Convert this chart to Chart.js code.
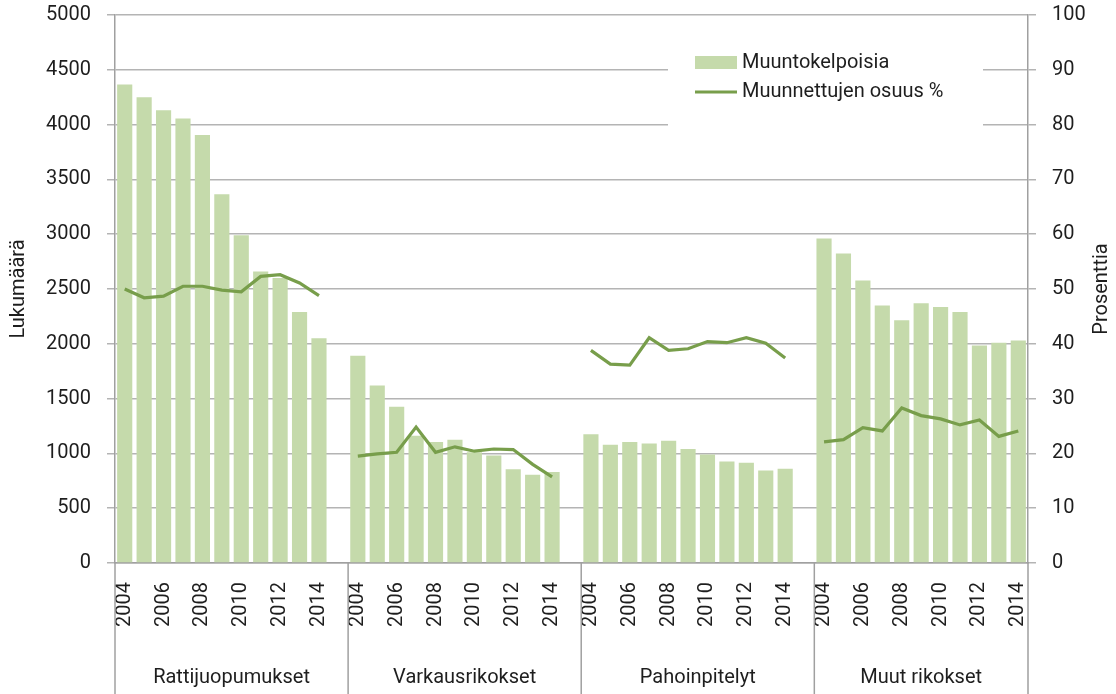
<!DOCTYPE html>
<html lang="fi">
<head>
<meta charset="utf-8">
<title>Muuntokelpoiset ja muunnettujen osuus</title>
<script src="https://cdn.jsdelivr.net/npm/chart.js@4.4.1/dist/chart.umd.min.js"></script>
<style>
  html, body { margin: 0; padding: 0; background: #fff; }
  #wrap { width: 1116px; height: 694px; }
</style>
</head>
<body>
<div id="wrap"><canvas id="chart" width="1116" height="694"></canvas></div>
<script>
const years = ['2004', '2005', '2006', '2007', '2008', '2009', '2010', '2011', '2012', '2013', '2014'];
const groups = ['Rattijuopumukset', 'Varkausrikokset', 'Pahoinpitelyt', 'Muut rikokset'];

// Muuntokelpoisia (lukumäärä)
const rattiCount = [4365, 4250, 4130, 4055, 3905, 3365, 2990, 2660, 2600, 2290, 2050];
const varkausCount = [1890, 1620, 1425, 1160, 1105, 1125, 1010, 980, 855, 805, 830];
const pahoinCount = [1175, 1080, 1105, 1090, 1115, 1040, 990, 925, 915, 845, 860];
const muutCount = [2960, 2825, 2578, 2350, 2215, 2370, 2335, 2290, 1985, 2010, 2030];

// Muunnettujen osuus %
const rattiPct = [50.0, 48.4, 48.7, 50.5, 50.5, 49.8, 49.5, 52.3, 52.6, 51.1, 48.8];
const varkausPct = [19.5, 19.9, 20.2, 24.8, 20.2, 21.2, 20.4, 20.8, 20.7, 18.0, 15.7];
const pahoinPct = [38.8, 36.3, 36.1, 41.1, 38.8, 39.1, 40.4, 40.2, 41.1, 40.1, 37.4];
const muutPct = [22.1, 22.5, 24.7, 24.1, 28.3, 26.9, 26.3, 25.2, 26.1, 23.1, 24.1];

const countMax = 5000, countStep = 500;
const pctMax = 100, pctStep = 10;

const barColor = '#c5daab';
const lineColor = '#789e4b';
const gridColor = '#b4b4b4';
const axisColor = '#a0a0a0';
const textColor = '#1e1e1e';
const fontFamily = 'Roboto, "DejaVu Sans", sans-serif';
const fontSize = 20;

// flatten groups, with an empty slot between groups
const allCounts = [rattiCount, varkausCount, pahoinCount, muutCount];
const allPcts = [rattiPct, varkausPct, pahoinPct, muutPct];
const labels = [];
const countData = [];
const pctData = [];
allCounts.forEach((counts, g) => {
    years.forEach((y, i) => {
        labels.push(y);
        countData.push(counts[i]);
        pctData.push(allPcts[g][i]);
    });
    if (g < groups.length - 1) {
        labels.push('');
        countData.push(null);
        pctData.push(null);
    }
});

const decor = {
    id: 'decor',
    afterDraw(chart) {
        const ctx = chart.ctx;
        const xs = chart.scales.x;
        const area = chart.chartArea;
        const slot = xs.getPixelForValue(1) - xs.getPixelForValue(0);

        ctx.save();
        ctx.font = fontSize + 'px ' + fontFamily;
        ctx.fillStyle = textColor;
        ctx.textAlign = 'center';
        ctx.textBaseline = 'middle';

        // group separators and names
        ctx.strokeStyle = axisColor;
        ctx.lineWidth = 1.5;
        let start = 0;
        groups.forEach((name, g) => {
            const n = years.length + (g < groups.length - 1 ? 1 : 0);
            const x0 = xs.getPixelForValue(start) - slot / 2;
            const x1 = xs.getPixelForValue(start + n - 1) + slot / 2;
            ctx.beginPath();
            ctx.moveTo(x0, area.bottom);
            ctx.lineTo(x0, chart.height);
            if (g === groups.length - 1) {
                ctx.moveTo(x1, area.bottom);
                ctx.lineTo(x1, chart.height);
            }
            ctx.stroke();
            ctx.fillText(name, (x0 + x1) / 2, 678);
            start += n;
        });

        // axis titles, both reading upwards
        const midY = (area.top + area.bottom) / 2;
        ctx.save();
        ctx.translate(19, midY);
        ctx.rotate(-Math.PI / 2);
        ctx.fillText('Lukumäärä', 0, 0);
        ctx.restore();
        ctx.save();
        ctx.translate(1102, midY);
        ctx.rotate(-Math.PI / 2);
        ctx.fillText('Prosenttia', 0, 0);
        ctx.restore();

        // legend
        const ds = chart.data.datasets;
        ctx.fillStyle = '#fff';
        ctx.fillRect(668, 24, 315, 104);
        ctx.fillStyle = barColor;
        ctx.fillRect(695, 56, 42, 13);
        ctx.strokeStyle = lineColor;
        ctx.lineWidth = 3;
        ctx.beginPath();
        ctx.moveTo(695, 92);
        ctx.lineTo(737, 92);
        ctx.stroke();
        ctx.fillStyle = textColor;
        ctx.textAlign = 'left';
        ctx.fillText(ds[0].label, 742, 63);
        ctx.fillText(ds[1].label, 742, 92);
        ctx.restore();
    }
};

const tickFont = { family: fontFamily, size: fontSize };
const plainNumber = (value) => String(value);
// let the end labels hang outside the plot instead of shrinking it
const fixedY = (width) => (scale) => {
    scale.width = width;
    scale.paddingTop = 0;
    scale.paddingBottom = 0;
};

new Chart(document.getElementById('chart'), {
    data: {
        labels,
        datasets: [{
            type: 'bar',
            label: 'Muuntokelpoisia',
            data: countData,
            backgroundColor: barColor,
            borderWidth: 0,
            categoryPercentage: 1,
            barPercentage: 0.78,
            yAxisID: 'y',
            order: 2
        }, {
            type: 'line',
            label: 'Muunnettujen osuus %',
            data: pctData,
            borderColor: lineColor,
            borderWidth: 3.2,
            pointRadius: 0,
            tension: 0,
            spanGaps: false,
            yAxisID: 'y1',
            order: 1
        }]
    },
    options: {
        responsive: false,
        animation: false,
        layout: { padding: { top: 15, left: 0, right: 0, bottom: 0 } },
        plugins: {
            legend: { display: false },
            tooltip: { enabled: false }
        },
        scales: {
            x: {
                offset: true,
                grid: { display: false, drawTicks: false },
                border: { display: true, color: axisColor, width: 1.5 },
                ticks: {
                    autoSkip: false,
                    minRotation: 90,
                    maxRotation: 90,
                    padding: 19,
                    color: textColor,
                    font: tickFont,
                    callback: function (value) {
                        const lab = this.getLabelForValue(value);
                        return lab && Number(lab) % 2 === 0 ? lab : '';
                    }
                },
                afterFit: (scale) => { scale.height = 131; }
            },
            y: {
                position: 'left',
                min: 0,
                max: countMax,
                grid: { color: gridColor, lineWidth: 1.5, tickLength: 8 },
                border: { color: axisColor, width: 1.5 },
                ticks: {
                    stepSize: countStep,
                    padding: 16,
                    color: textColor,
                    font: tickFont,
                    callback: plainNumber
                },
                afterFit: fixedY(115)
            },
            y1: {
                position: 'right',
                min: 0,
                max: pctMax,
                grid: { drawOnChartArea: false, color: gridColor, lineWidth: 1.5, tickLength: 8 },
                border: { color: axisColor, width: 1.5 },
                ticks: {
                    stepSize: pctStep,
                    padding: 16,
                    color: textColor,
                    font: tickFont,
                    callback: plainNumber
                },
                afterFit: fixedY(88)
            }
        }
    },
    plugins: [decor]
});
</script>
</body>
</html>
